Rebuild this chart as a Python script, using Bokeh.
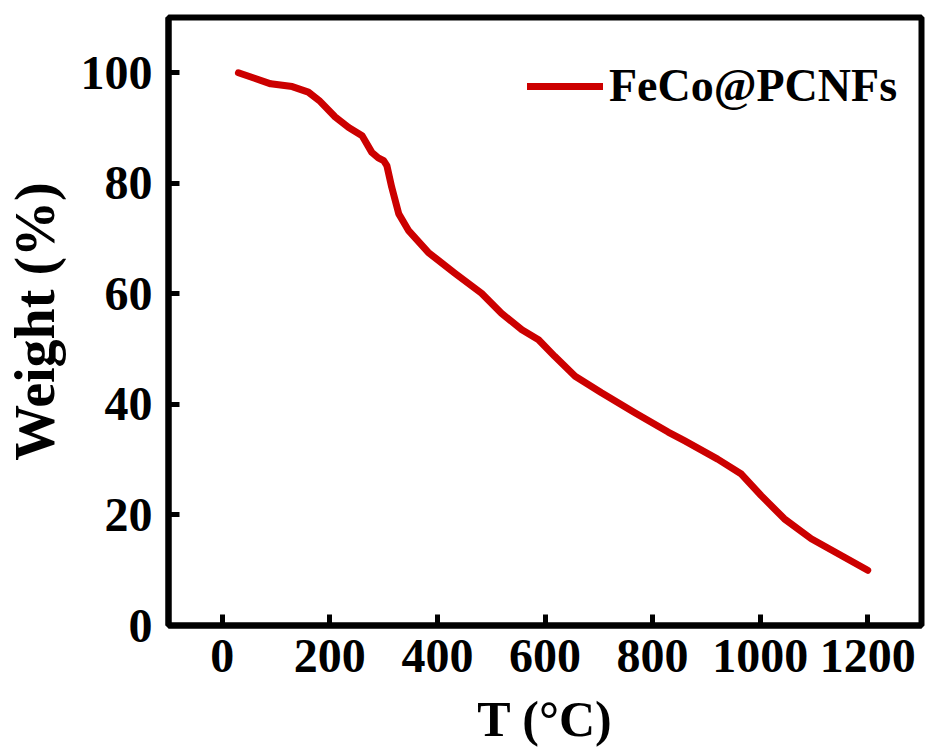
from bokeh.plotting import figure
from bokeh.models import Range1d, FixedTicker, Legend, LegendItem
from bokeh.embed import file_html
from bokeh.resources import INLINE

temperature = [30, 60, 90, 130, 160, 180, 210, 235, 260, 278, 290, 300, 306, 315, 328,
               346, 383, 433, 482, 519, 557, 588, 618, 656, 705, 767, 829, 860, 921,
               965, 1002, 1045, 1095, 1150, 1200]
weight = [100, 99, 98, 97.5, 96.5, 95, 92, 90.1, 88.6, 85.6, 84.6, 84.1, 83.2, 79.3, 74.5,
          71.5, 67.5, 63.7, 60.1, 56.5, 53.5, 51.7, 48.7, 45.1, 42.1, 38.5, 35, 33.4, 30.1,
          27.4, 23.5, 19.3, 15.7, 12.7, 10]
x_ticks = [0, 200, 400, 600, 800, 1000, 1200]
y_ticks = [0, 20, 40, 60, 80, 100]
series_name = "FeCo@PCNFs"

FONT = "Liberation Serif"

p = figure(width=925, height=756, output_backend="svg", toolbar_location=None,
           x_range=Range1d(-100, 1300), y_range=Range1d(0, 110),
           min_border_left=167, min_border_right=4, min_border_top=17, min_border_bottom=131)

r = p.line(temperature, weight, line_color="#CC0000", line_width=7,
           line_join="round", line_cap="round")

p.xgrid.visible = False
p.ygrid.visible = False
p.outline_line_color = "black"
p.outline_line_width = 6
p.outline_line_alpha = 1.0
p.background_fill_color = "white"
p.border_fill_color = "white"

p.xaxis.ticker = FixedTicker(ticks=x_ticks)
p.yaxis.ticker = FixedTicker(ticks=y_ticks)
for ax in (p.xaxis[0], p.yaxis[0]):
    ax.axis_line_color = "black"
    ax.axis_line_width = 6
    ax.major_tick_in = 11
    ax.major_tick_out = 0
    ax.major_tick_line_width = 5
    ax.minor_tick_line_color = None
    ax.major_label_text_font = FONT
    ax.major_label_text_font_style = "bold"
    ax.major_label_text_font_size = "48px"
    ax.major_label_text_color = "black"
    ax.axis_label_text_font = FONT
    ax.axis_label_text_font_style = "bold"
    ax.axis_label_text_color = "black"

p.xaxis.axis_label = "T (°C)"
p.yaxis.axis_label = "Weight (%)"
p.xaxis.axis_label_text_font_size = "50px"
p.yaxis.axis_label_text_font_size = "56px"
p.xaxis.major_label_standoff = 14
p.yaxis.major_label_standoff = 16
p.xaxis.axis_label_standoff = 16
p.yaxis.axis_label_standoff = 12

legend = Legend(items=[LegendItem(label=series_name, renderers=[r])],
                location=(359, 513), border_line_color=None,
                background_fill_alpha=0, glyph_width=76, label_standoff=6,
                padding=0, margin=0, spacing=0,
                label_text_font=FONT, label_text_font_style="bold",
                label_text_font_size="46px", label_text_color="black")
p.add_layout(legend)

open("out.html", "w").write(file_html(p, INLINE))
